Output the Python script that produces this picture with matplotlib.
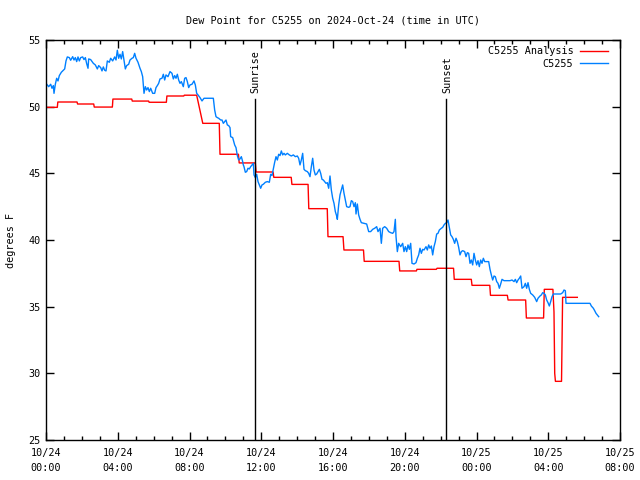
import matplotlib
matplotlib.use("Agg")
import matplotlib.pyplot as plt
from matplotlib.ticker import FixedLocator, MultipleLocator

title = "Dew Point for C5255 on 2024-Oct-24 (time in UTC)"
ylabel = "degrees F"
series_names = ["C5255 Analysis", "C5255"]

# hours since 2024-10-24 00:00 UTC
tick_hours = [0, 4, 8, 12, 16, 20, 24, 28, 32]
tick_labels = ["10/24\n00:00", "10/24\n04:00", "10/24\n08:00", "10/24\n12:00",
               "10/24\n16:00", "10/24\n20:00", "10/25\n00:00", "10/25\n04:00",
               "10/25\n08:00"]
y_ticks = [25, 30, 35, 40, 45, 50, 55]

sunrise_hour = 11.65
sunset_hour = 22.30

analysis_hours = [0.0, 0.63, 0.66, 1.73, 1.76, 2.66, 2.69, 3.70, 3.73, 4.78, 4.81,
                  5.72, 5.75, 6.71, 6.74, 7.68, 7.71, 8.40, 8.74, 9.66, 9.70,
                  10.73, 10.77, 11.67, 11.71, 12.66, 12.70, 13.67, 13.71, 14.61,
                  14.65, 15.68, 15.72, 16.56, 16.61, 17.70, 17.74, 19.68, 19.72,
                  20.65, 20.68, 21.76, 21.80, 22.72, 22.76, 23.71, 23.75, 24.74,
                  24.78, 25.72, 25.76, 26.74, 26.78, 27.74, 27.78, 28.26, 28.32,
                  28.36, 28.40, 28.74, 28.77, 28.80, 29.62]
analysis_vals = [49.95, 49.95, 50.35, 50.35, 50.2, 50.2, 49.97, 49.97, 50.57, 50.57,
                 50.42, 50.42, 50.33, 50.33, 50.8, 50.8, 50.86, 50.86, 48.75, 48.75,
                 46.43, 46.43, 45.78, 45.78, 45.1, 45.1, 44.7, 44.7, 44.17, 44.17,
                 42.35, 42.35, 40.25, 40.25, 39.25, 39.25, 38.4, 38.4, 37.68,
                 37.68, 37.8, 37.8, 37.88, 37.88, 37.05, 37.05, 36.6, 36.6,
                 35.85, 35.85, 35.5, 35.5, 34.15, 34.15, 36.3, 36.3, 34.6,
                 30.0, 29.4, 29.4, 32.5, 35.7, 35.7]

obs_hours = [0.0, 0.149, 0.260, 0.334, 0.409, 0.446, 0.520, 0.595, 0.669, 0.743,
             0.855, 0.929, 1.041, 1.115, 1.189, 1.301, 1.375, 1.487, 1.561, 1.635,
             1.710, 1.784, 1.858, 1.933, 2.044, 2.118, 2.193, 2.267, 2.342, 2.379,
             2.490, 2.639, 2.750, 2.862, 2.936, 3.048, 3.122, 3.196, 3.271, 3.345,
             3.419, 3.531, 3.605, 3.717, 3.828, 3.903, 3.977, 4.051, 4.126, 4.200,
             4.274, 4.349, 4.423, 4.497, 4.609, 4.683, 4.795, 4.869, 4.943, 5.018,
             5.129, 5.240, 5.315, 5.389, 5.464, 5.538, 5.612, 5.686, 5.761, 5.835,
             5.947, 6.058, 6.132, 6.207, 6.281, 6.355, 6.467, 6.541, 6.616, 6.690,
             6.801, 6.913, 7.024, 7.099, 7.173, 7.248, 7.322, 7.396, 7.470, 7.545,
             7.656, 7.731, 7.805, 7.879, 7.954, 8.028, 8.139, 8.251, 8.325, 8.400,
             8.474, 8.586, 8.697, 8.809, 8.920, 9.329, 9.403, 9.477, 9.552, 9.626,
             9.738, 9.812, 9.886, 9.961, 10.035, 10.109, 10.184, 10.258, 10.295,
             10.407, 10.518, 10.592, 10.667, 10.741, 10.815, 10.890, 10.964, 11.001,
             11.038, 11.113, 11.187, 11.261, 11.336, 11.410, 11.484, 11.559, 11.596,
             11.670, 11.745, 11.819, 11.893, 11.968, 12.042, 12.116, 12.228, 12.339,
             12.451, 12.525, 12.599, 12.674, 12.748, 12.822, 12.897, 12.971, 13.045,
             13.120, 13.194, 13.268, 13.343, 13.454, 13.566, 13.677, 13.789, 13.900,
             14.012, 14.086, 14.160, 14.235, 14.309, 14.384, 14.458, 14.569, 14.644,
             14.718, 14.792, 14.867, 14.941, 15.015, 15.090, 15.164, 15.238, 15.313,
             15.387, 15.461, 15.536, 15.610, 15.684, 15.759, 15.833, 15.907, 15.982,
             16.056, 16.130, 16.205, 16.242, 16.316, 16.391, 16.465, 16.539, 16.614,
             16.688, 16.762, 16.874, 16.948, 17.022, 17.097, 17.171, 17.245, 17.283,
             17.357, 17.431, 17.506, 17.580, 17.729, 17.877, 17.989, 18.100, 18.212,
             18.323, 18.435, 18.509, 18.621, 18.695, 18.769, 18.881, 18.992, 19.104,
             19.215, 19.327, 19.401, 19.475, 19.513, 19.587, 19.661, 19.773, 19.884,
             19.958, 20.033, 20.107, 20.181, 20.256, 20.330, 20.404, 20.516, 20.627,
             20.702, 20.776, 20.850, 20.925, 20.999, 21.073, 21.185, 21.259, 21.334,
             21.408, 21.482, 21.557, 21.631, 21.705, 21.780, 21.854, 21.928, 22.040,
             22.114, 22.189, 22.263, 22.337, 22.411, 22.486, 22.560, 22.634, 22.709,
             22.783, 22.858, 22.932, 23.006, 23.080, 23.155, 23.229, 23.341, 23.415,
             23.489, 23.564, 23.638, 23.712, 23.787, 23.861, 23.935, 24.010, 24.084,
             24.158, 24.233, 24.307, 24.381, 24.456, 24.567, 24.679, 24.753, 24.827,
             24.902, 24.976, 25.050, 25.125, 25.199, 25.273, 25.348, 25.422, 25.534,
             25.645, 25.757, 25.868, 25.980, 26.091, 26.165, 26.240, 26.314, 26.388,
             26.463, 26.537, 26.649, 26.723, 26.797, 26.872, 26.946, 27.020, 27.132,
             27.243, 27.355, 27.429, 27.540, 27.615, 27.689, 27.764, 27.838, 27.912,
             27.986, 28.061, 28.135, 28.210, 28.284, 28.432, 28.581, 28.693, 28.804,
             28.878, 28.953, 28.990, 29.250, 29.622, 29.993, 30.328, 30.402, 30.514,
             30.588, 30.663, 30.737, 30.811]
obs_vals = [51.75, 51.5, 51.68, 51.38, 51.58, 51.0, 51.68, 52.13, 51.93, 52.33,
            52.58, 52.68, 52.83, 53.43, 53.73, 53.68, 53.48, 53.75, 53.5, 53.68,
            53.38, 53.73, 53.43, 53.68, 53.73, 53.53, 53.68, 53.23, 52.88, 53.58,
            53.53, 53.25, 53.13, 52.83, 53.08, 52.93, 52.68, 52.98, 52.73, 52.68,
            53.43, 53.33, 53.63, 53.43, 53.73, 53.5, 54.23, 53.63, 53.93, 53.58,
            54.13, 53.5, 52.83, 53.08, 53.18, 53.5, 53.63, 53.68, 54.0, 53.63,
            53.33, 52.88, 52.63, 52.25, 51.0, 51.5, 51.25, 51.43, 51.13, 51.38,
            51.0, 51.0, 51.43, 51.58, 51.75, 52.08, 52.13, 52.43, 52.0, 52.38,
            52.25, 52.63, 52.5, 52.08, 52.33, 52.13, 52.43, 52.0, 51.75, 51.88,
            51.5, 52.13, 52.18, 51.88, 51.43, 51.63, 51.68, 51.93, 51.63, 51.0,
            50.88, 50.68, 50.43, 50.63, 50.63, 50.63, 49.75, 49.25, 49.18, 49.13,
            49.0, 49.0, 48.75, 48.88, 49.0, 48.63, 48.58, 48.43, 47.75,
            47.68, 47.13, 46.93, 46.33, 46.0, 46.08, 46.25, 45.88, 45.63,
            45.5, 45.08, 45.13, 45.38, 45.33, 45.5, 45.63, 45.75, 44.88,
            44.68, 44.93, 44.38, 44.13, 43.88, 44.13, 44.18, 44.33, 44.38,
            44.33, 44.93, 44.83, 45.33, 45.83, 46.25, 46.0, 46.43, 46.33,
            46.68, 46.38, 46.5, 46.38, 46.5, 46.38, 46.3, 46.38, 46.25,
            46.3, 46.13, 45.63, 46.0, 46.5, 45.3, 45.2, 45.13, 45.0,
            44.75, 45.5, 46.13, 45.25, 44.88, 44.95, 45.13, 45.3, 45.0,
            44.55, 44.5, 44.38, 44.25, 44.3, 43.88, 44.8, 43.75, 43.13,
            42.75, 42.13, 41.8, 41.55, 42.63, 43.38, 43.75, 44.13, 43.5,
            43.0, 42.5, 42.45, 42.5, 42.95, 42.88, 42.5, 42.8, 41.95,
            42.7, 41.88, 41.55, 41.3, 41.25, 41.2, 40.63, 40.63, 40.8,
            40.88, 41.0, 40.63, 40.88, 39.75, 40.88, 41.0, 40.88, 40.63,
            40.55, 40.5, 40.63, 41.55, 40.25, 39.13, 39.75, 39.5, 39.75,
            39.13, 39.5, 39.13, 39.63, 39.3, 39.75, 38.25, 38.2, 38.3,
            38.63, 38.88, 39.38, 39.0, 39.3, 39.25, 39.5, 39.25, 39.63,
            39.38, 39.55, 38.88, 39.5, 39.88, 40.45, 40.5, 40.75, 40.88,
            40.95, 41.13, 41.25, 41.3, 41.5, 40.95, 40.38, 40.25, 40.05,
            39.75, 40.13, 39.88, 39.45, 38.88, 39.13, 39.2, 39.13, 38.75,
            39.05, 39.0, 38.25, 38.5, 38.13, 39.0, 38.5, 38.13, 38.45,
            38.0, 38.5, 38.25, 38.63, 38.38, 38.38, 38.38, 37.8, 37.38,
            37.0, 37.3, 37.25, 36.88, 36.75, 36.38, 36.7, 37.05, 36.95,
            36.95, 36.95, 36.95, 37.0, 36.88, 37.05, 36.8, 37.0, 37.13,
            37.3, 36.38, 36.5, 36.75, 36.38, 36.8, 36.3, 36.0, 35.88,
            35.7, 35.38, 35.63, 35.8, 35.88, 36.05, 36.0, 35.88, 35.5,
            35.3, 35.05, 35.38, 35.75, 35.95, 35.95, 35.95, 35.95, 36.05,
            36.25, 36.2, 35.25, 35.25, 35.25, 35.25, 35.25, 35.05, 34.88,
            34.7, 34.5, 34.38, 34.25]

FONT = "DejaVu Sans Mono"
FS = 7.3
LW = 1.0
plt.rcParams["font.family"] = [FONT]
plt.rcParams["font.size"] = FS

fig = plt.figure(figsize=(6.4, 4.8), dpi=100)
ax = fig.add_axes([46 / 640, 40 / 480, 574 / 640, 400 / 480])

ax.plot(analysis_hours, analysis_vals, color="#ff0000", lw=LW, label=series_names[0])
ax.plot(obs_hours, obs_vals, color="#0080ff", lw=LW, label=series_names[1])

for h, name in [(sunrise_hour, "Sunrise"), (sunset_hour, "Sunset")]:
    ax.plot([h, h], [25, 50.55], color="black", lw=LW)
    ax.text(h + 0.05, 51.0, name, rotation=90, ha="center", va="bottom", fontsize=FS)

ax.set_xlim(0, 32)
ax.set_ylim(25, 55)
ax.xaxis.set_major_locator(FixedLocator(tick_hours))
ax.set_xticklabels(tick_labels, linespacing=1.55)
ax.xaxis.set_minor_locator(MultipleLocator(1))
ax.set_yticks(y_ticks)
ax.tick_params(axis="both", which="major", direction="in", top=True, right=True,
               length=6, width=1, labelsize=FS)
ax.tick_params(axis="x", which="major", pad=6)
ax.tick_params(axis="y", which="major", pad=4)
ax.tick_params(axis="x", which="minor", direction="in", top=True, bottom=True,
               length=3, width=1)
for sp in ax.spines.values():
    sp.set_linewidth(1)

ax.set_title(title, fontsize=FS, pad=12)
ax.set_ylabel(ylabel, fontsize=FS, labelpad=9)

leg = ax.legend(loc="upper right", bbox_to_anchor=(1 - 6 / 574, 1),
                frameon=False, markerfirst=False,
                alignment="right", handlelength=2.75, handletextpad=0.65,
                borderaxespad=0.2, labelspacing=0.25, fontsize=FS)

fig.savefig("out.png", dpi=100)
